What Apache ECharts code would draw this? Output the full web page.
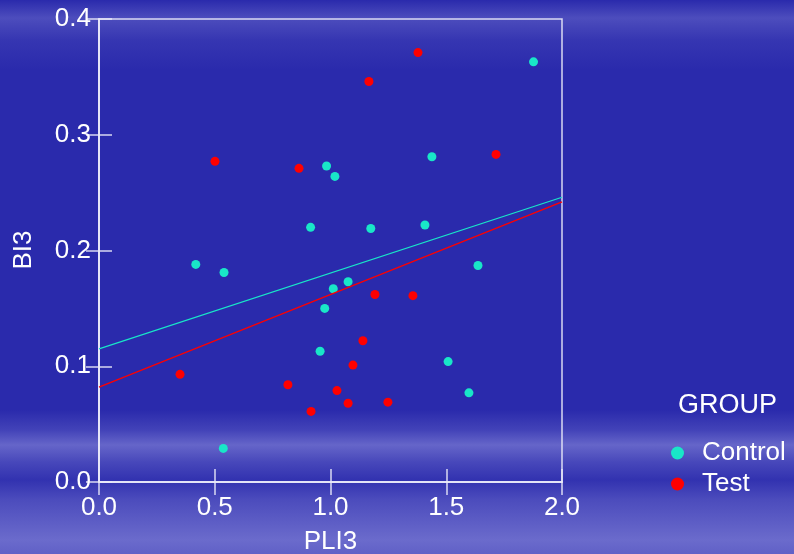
<!DOCTYPE html>
<html>
<head>
<meta charset="utf-8">
<script src="https://cdn.jsdelivr.net/npm/echarts@6/dist/echarts.min.js"></script>
<style>
  html, body { margin: 0; padding: 0; }
  body {
    width: 794px; height: 554px; overflow: hidden;
    background:
      linear-gradient(180deg,
        rgba(120,120,210,0.0) 0px, rgba(120,120,210,0.45) 18px, rgba(120,120,210,0.15) 40px,
        rgba(120,120,210,0.0) 70px, rgba(120,120,210,0.0) 410px,
        rgba(140,140,220,0.25) 430px, rgba(150,150,225,0.55) 445px, rgba(140,140,220,0.3) 462px,
        rgba(120,120,210,0.1) 480px, rgba(140,140,220,0.35) 500px, rgba(150,150,225,0.6) 540px,
        rgba(150,150,225,0.5) 554px),
      #2a2aac;
  }
  #chart { width: 794px; height: 554px; }
</style>
</head>
<body>
<div id="chart"></div>
<script>
// 数据 - Control 组
var controlX = [1.877, 1.438, 0.983, 1.019, 1.174, 1.408, 0.914, 0.418, 0.540, 0.975, 0.955, 0.537, 1.637, 1.012, 1.076, 1.508, 1.598];
var controlY = [0.363, 0.281, 0.273, 0.264, 0.219, 0.222, 0.220, 0.188, 0.181, 0.150, 0.113, 0.029, 0.187, 0.167, 0.173, 0.104, 0.077];
// 数据 - Test 组
var testX = [1.378, 1.166, 0.501, 0.864, 1.715, 1.192, 1.356, 1.140, 1.097, 0.350, 0.816, 1.028, 0.916, 1.076, 1.248];
var testY = [0.371, 0.346, 0.277, 0.271, 0.283, 0.162, 0.161, 0.122, 0.101, 0.093, 0.084, 0.079, 0.061, 0.068, 0.069];
// 拟合线端点
var fitX = [0, 2];
var controlFitY = [0.115, 0.246];
var testFitY = [0.082, 0.242];

var pair = function (xs, ys) {
  return xs.map(function (x, i) { return [x, ys[i]]; });
};

var myChart = echarts.init(document.getElementById('chart'));
var axisColor = 'rgba(235,235,250,0.9)';
var font = "'Liberation Sans', Arial, sans-serif";

var option = {
  backgroundColor: 'transparent',
  animation: false,
  textStyle: { fontFamily: font },
  title: {
    text: 'GROUP',
    left: 673,
    top: 387,
    textStyle: { color: '#fff', fontSize: 27, fontWeight: 'normal', fontFamily: font }
  },
  legend: {
    orient: 'vertical',
    left: 666,
    top: 435,
    itemWidth: 13,
    itemHeight: 13,
    itemGap: 5,
    icon: 'circle',
    data: ['Control', 'Test'],
    textStyle: { color: '#fff', fontSize: 26, fontFamily: font, padding: [0, 0, 0, 13] }
  },
  grid: {
    left: 99, right: 232, top: 19, bottom: 72,
    outerBoundsMode: 'none', containLabel: false,
    show: true, borderColor: axisColor, borderWidth: 1.5
  },
  graphic: [{
    type: 'text',
    x: 24,
    y: 250,
    rotation: Math.PI / 2,
    style: { text: 'BI3', fill: '#fff', font: "26px 'Liberation Sans', Arial, sans-serif", align: 'center', verticalAlign: 'middle' }
  }],
  xAxis: [{
    type: 'value', min: 0, max: 2, interval: 0.5,
    name: 'PLI3', nameLocation: 'middle', nameGap: 47,
    nameTextStyle: { color: '#fff', fontSize: 26, fontFamily: font },
    axisLine: { show: true, lineStyle: { color: axisColor, width: 1.5 } },
    axisTick: { show: true, inside: true, length: 13, lineStyle: { color: axisColor, width: 1.5 } },
    axisLabel: { color: '#fff', fontSize: 26, margin: 13, fontFamily: font, formatter: function (v) { return v.toFixed(1); } },
    splitLine: { show: false }
  }, {
    type: 'value', min: 0, max: 2, interval: 0.5, position: 'top',
    axisLine: { show: true, lineStyle: { color: axisColor, width: 1.5 } },
    axisTick: { show: true, inside: true, length: 13, lineStyle: { color: axisColor, width: 1.5 } },
    axisLabel: { show: false },
    splitLine: { show: false }
  }],
  yAxis: [{
    type: 'value', min: 0, max: 0.4, interval: 0.1,
    axisLine: { show: true, lineStyle: { color: axisColor, width: 1.5 } },
    axisTick: { show: true, inside: true, length: 13, lineStyle: { color: axisColor, width: 1.5 } },
    axisLabel: { color: '#fff', fontSize: 26, margin: 8, fontFamily: font, formatter: function (v) { return v.toFixed(1); } },
    splitLine: { show: false }
  }, {
    type: 'value', min: 0, max: 0.4, interval: 0.1, position: 'right',
    axisLine: { show: true, lineStyle: { color: axisColor, width: 1.5 } },
    axisTick: { show: true, inside: true, length: 13, lineStyle: { color: axisColor, width: 1.5 } },
    axisLabel: { show: false },
    splitLine: { show: false }
  }],
  series: [{
    name: 'Control', type: 'line',
    data: pair(fitX, controlFitY),
    showSymbol: false, symbol: 'none',
    lineStyle: { color: '#19e6c8', width: 1.2 },
    itemStyle: { color: '#19e6c8' }
  }, {
    name: 'Test', type: 'line',
    data: pair(fitX, testFitY),
    showSymbol: false, symbol: 'none',
    lineStyle: { color: '#ff0000', width: 1.2 },
    itemStyle: { color: '#ff0000' }
  }, {
    name: 'Control', type: 'scatter',
    data: pair(controlX, controlY),
    symbolSize: 9,
    itemStyle: { color: '#19e6c8', opacity: 1 }
  }, {
    name: 'Test', type: 'scatter',
    data: pair(testX, testY),
    symbolSize: 9,
    itemStyle: { color: '#ff0000', opacity: 1 }
  }]
};

myChart.setOption(option);
</script>
</body>
</html>
